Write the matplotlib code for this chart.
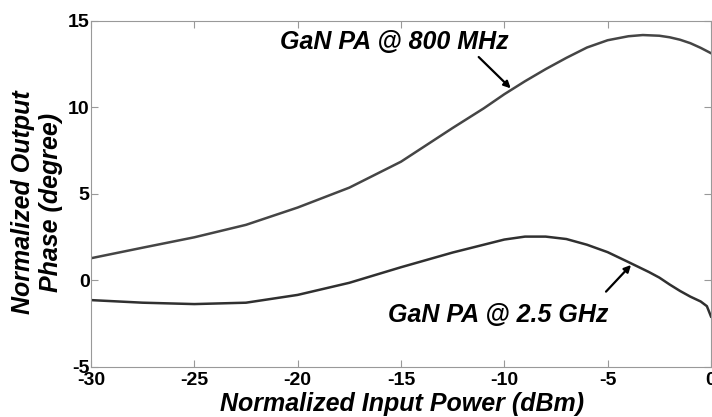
import numpy as np
import matplotlib
matplotlib.use("Agg")
import matplotlib.pyplot as plt

# valeurs
p_in_800 = [-30, -27.5, -25, -22.5, -20, -17.5, -15, -12.5, -11, -10, -9, -8, -7, -6, -5, -4, -3.3, -2.5, -2, -1.5, -1, -0.5, 0]
phase_800 = [1.27, 1.88, 2.48, 3.2, 4.2, 5.35, 6.85, 8.8, 9.93, 10.75, 11.5, 12.2, 12.85, 13.45, 13.87, 14.1, 14.17, 14.13, 14.04, 13.9, 13.7, 13.43, 13.12]

p_in_25 = [-30, -27.5, -25, -22.5, -20, -17.5, -15, -12.5, -11, -10, -9, -8, -7, -6, -5, -4, -3, -2.5, -2, -1.5, -1, -0.5, -0.2, 0]
phase_25 = [-1.15, -1.3, -1.38, -1.3, -0.85, -0.15, 0.75, 1.6, 2.05, 2.35, 2.52, 2.52, 2.38, 2.05, 1.62, 1.05, 0.47, 0.15, -0.25, -0.62, -0.95, -1.23, -1.5, -2.1]

xticks = [-30, -25, -20, -15, -10, -5, 0]
yticks = [-5, 0, 5, 10, 15]

plt.rcParams['font.family'] = ['Liberation Sans', 'DejaVu Sans']

fig = plt.figure(figsize=(7.12, 4.17), dpi=100)
ax = fig.add_axes([0.1278, 0.1206, 0.8708, 0.8298])

ax.plot(p_in_800, phase_800, color='#454545', lw=1.8)
ax.plot(p_in_25, phase_25, color='#303030', lw=1.8)

ax.set_xlim(-30, 0)
ax.set_ylim(-5, 15)
ax.set_xticks(xticks)
ax.set_yticks(yticks)
ax.set_xticklabels([str(v) for v in xticks], fontsize=14, fontweight='bold')
ax.set_yticklabels([str(v) for v in yticks], fontsize=14, fontweight='bold')
ax.tick_params(direction='in', length=5, color='#999999', top=True, right=True)
ax.tick_params(axis='x', pad=4)
ax.tick_params(axis='y', pad=1)
for s in ax.spines.values():
    s.set_color('#999999')

ax.set_xlabel('Normalized Input Power (dBm)', fontsize=18, fontweight='bold',
              fontstyle='italic')
ax.xaxis.set_label_coords(0.502, -0.073)
ax.set_ylabel('Normalized Output\nPhase (degree)', fontsize=18, fontweight='bold',
              fontstyle='italic', linespacing=1.2)
ax.yaxis.set_label_coords(-0.045, 0.476)

# textes et fleches
ax.text(-15.34, 13.79, 'GaN PA @ 800 MHz', fontsize=18, fontweight='bold',
        fontstyle='italic', ha='center', va='center')
ax.annotate('', xy=(-9.69, 11.09), xytext=(-11.24, 12.9),
            arrowprops=dict(arrowstyle='-|>', color='black', lw=1.6, mutation_scale=10,
                            shrinkA=0, shrinkB=0))
ax.text(-10.3, -2.01, 'GaN PA @ 2.5 GHz', fontsize=18, fontweight='bold',
        fontstyle='italic', ha='center', va='center')
ax.annotate('', xy=(-3.87, 0.88), xytext=(-5.08, -0.66),
            arrowprops=dict(arrowstyle='-|>', color='black', lw=1.6, mutation_scale=10,
                            shrinkA=0, shrinkB=0))

fig.savefig('out.png', dpi=100)
